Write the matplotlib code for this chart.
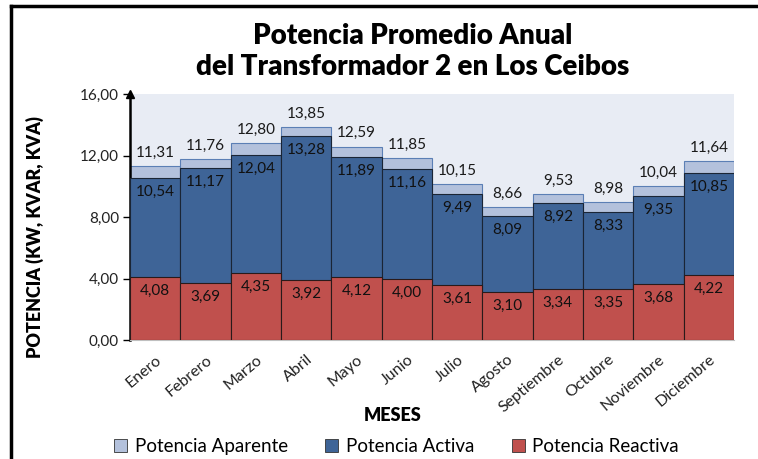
import numpy as np
import matplotlib.pyplot as plt
from matplotlib.patches import Rectangle
from matplotlib.lines import Line2D

plt.rcParams['font.family'] = ['Lato', 'DejaVu Sans']

meses = ['Enero', 'Febrero', 'Marzo', 'Abril', 'Mayo', 'Junio', 'Julio',
         'Agosto', 'Septiembre', 'Octubre', 'Noviembre', 'Diciembre']
aparente = [11.31, 11.76, 12.80, 13.85, 12.59, 11.85, 10.15, 8.66, 9.53, 8.98, 10.04, 11.64]
activa = [10.54, 11.17, 12.04, 13.28, 11.89, 11.16, 9.49, 8.09, 8.92, 8.33, 9.35, 10.85]
reactiva = [4.08, 3.69, 4.35, 3.92, 4.12, 4.00, 3.61, 3.10, 3.34, 3.35, 3.68, 4.22]

c_apa = '#b3c1dc'
c_act = '#3e6497'
c_rea = '#c0504d'

def fmt(v):
    return f'{v:.2f}'.replace('.', ',')

fig = plt.figure(figsize=(7.58, 4.59), dpi=100)
ax = fig.add_axes([0.1715, 0.259, 0.797, 0.536])
ax.set_facecolor('#e8ecf4')

x = np.arange(len(meses))
# overlapping bars: apparent behind, active and reactive in front
ax.bar(x, aparente, width=1.0, color=c_apa, edgecolor='#5b7fb5', linewidth=0.8, zorder=2)
ax.bar(x, activa, width=1.0, color=c_act, edgecolor='#1a2535', linewidth=0.8, zorder=3)
ax.bar(x, reactiva, width=1.0, color=c_rea, edgecolor='#2a1a1a', linewidth=0.8, zorder=4)

for i in range(len(meses)):
    ax.text(x[i], aparente[i] + 0.4, fmt(aparente[i]), ha='center', va='bottom',
            fontsize=11, color='#1a1a1a', zorder=5)
    ax.text(x[i], activa[i] - 0.45, fmt(activa[i]), ha='center', va='top',
            fontsize=11, color='#111111', zorder=5)
    ax.text(x[i], reactiva[i] - 0.45, fmt(reactiva[i]), ha='center', va='top',
            fontsize=11, color='#111111', zorder=5)

ax.set_xlim(-0.5, 11.5)
ax.set_ylim(0, 16)
ax.set_yticks([0, 4, 8, 12, 16])
ax.set_yticklabels([fmt(v) for v in [0, 4, 8, 12, 16]], fontsize=11, color='#222222')
ax.set_xticks(x)
ax.set_xticklabels(meses, rotation=40, ha='right', rotation_mode='anchor',
                   fontsize=11.5, color='#222222')
ax.tick_params(axis='x', length=0, pad=9)
ax.tick_params(axis='y', length=5, width=1, direction='out', pad=3)

for s in ['top', 'right']:
    ax.spines[s].set_visible(False)
ax.spines['bottom'].set_color('#bfbfbf')
ax.spines['left'].set_linewidth(1.8)
ax.spines['left'].set_color('black')
ax.plot(0, 1, '^', color='black', markersize=6, transform=ax.transAxes,
        clip_on=False, zorder=6)

ax.set_xlabel('MESES', fontsize=13, fontweight='heavy')
ax.set_ylabel('POTENCIA (KW, KVAR, KVA)', fontsize=13, fontweight='heavy')
ax.xaxis.set_label_coords(0.435, -0.272)
ax.yaxis.set_label_coords(-0.142, 0.42)

fig.text(0.545, 0.95, 'Potencia Promedio Anual\ndel Transformador 2 en Los Ceibos',
         ha='center', va='top', fontsize=20, fontweight='heavy', linespacing=1.25)

handles = [Rectangle((0, 0), 1, 1, facecolor=c, edgecolor='#333333', linewidth=0.6)
           for c in (c_apa, c_act, c_rea)]
fig.legend(handles, ['Potencia Aparente', 'Potencia Activa', 'Potencia Reactiva'],
           loc='lower center', bbox_to_anchor=(0.523, -0.028), ncol=3, frameon=False,
           fontsize=13.5, handlelength=0.7, handleheight=0.7, columnspacing=2.0,
           handletextpad=0.4)

# frame around the chart
fig.add_artist(Line2D([0.014, 0.014], [0, 0.988], color='black', linewidth=2.5,
                      transform=fig.transFigure))
fig.add_artist(Line2D([0.014, 1.0], [0.988, 0.988], color='black', linewidth=2.5,
                      transform=fig.transFigure))

fig.savefig('out.png', dpi=100)
